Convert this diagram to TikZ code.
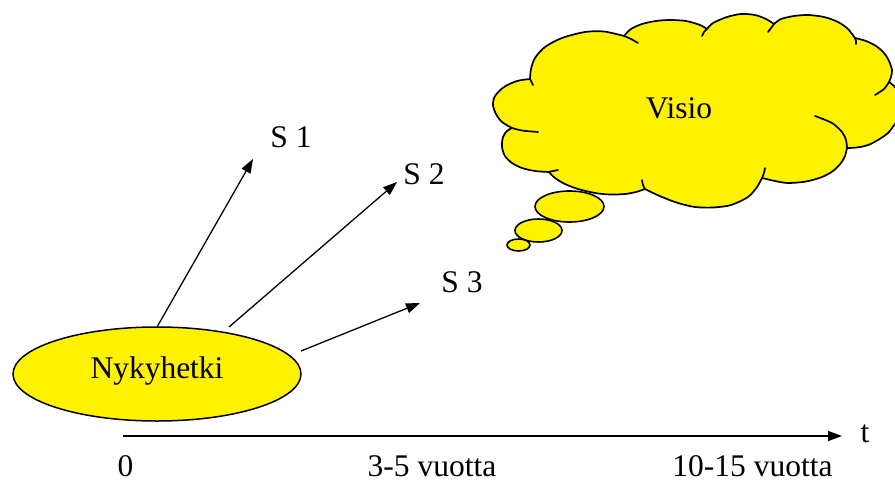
\documentclass[tikz,border=0pt]{standalone}
\usepackage{fontspec}
\setmainfont{Liberation Serif}
\usetikzlibrary{arrows.meta,shapes.geometric}
\begin{document}
\begin{tikzpicture}[x=1pt,y=-1pt,
  every node/.style={font=\fontsize{31.5}{36}\selectfont},
  lbl/.style={anchor=base, inner sep=0pt, text depth=0pt},
  bubble/.style={ellipse, draw, fill=yellow, line width=1.6pt, inner sep=0pt},
  cloudline/.style={draw, fill=yellow, line width=1.7pt, line join=round},
  tail/.style={line width=1.7pt, line cap=round},
  conn/.style={-{Triangle[length=14pt,width=10pt]}, line width=1.3pt}]
\useasboundingbox (0,0) rectangle (895,480);

% thought cloud
\path[cloudline]
  plot[smooth] coordinates {(530,79) (531,69) (535,58) (545,47) (562,38) (585,32) (604,31.5) (624,36)}
  -- plot[smooth] coordinates {(624,36) (631,29) (642,24) (656,21) (670,20) (686,21) (700,25) (707,29)}
  -- plot[smooth] coordinates {(707,29) (713,23) (727,17) (741,14) (755,15) (766,19) (774,24)}
  -- plot[smooth] coordinates {(774,24) (781,19) (794,16) (808,15) (824,17) (838,22) (848,29) (855,38)}
  -- plot[smooth] coordinates {(855,38) (866,41) (876,46) (884,53) (889,61) (892,70) (891,77) (889,82)}
  -- plot[smooth] coordinates {(889,82) (894,86) (899,92) (903,100) (904,108) (901,117) (895,124) (888,133) (878,140) (868,145) (857,147.5) (847,148)}
  -- plot[smooth] coordinates {(847,148) (845,156) (841,163) (833,171) (822,177) (806,181.5) (788,183) (775,181) (762,178)}
  -- plot[smooth] coordinates {(762,178) (757,187) (748,197) (731,205) (713,207.5) (695,207) (678,203) (662,197) (651,192) (645,189)}
  -- plot[smooth] coordinates {(645,189) (636,192) (625,194) (610,194.5) (595,193) (578,189) (565,184) (555,178) (549,172)}
  -- plot[smooth] coordinates {(549,172) (535,171) (522,168) (512,163) (505,156) (502,147) (503,137) (507,131) (512,128)}
  -- plot[smooth] coordinates {(512,128) (502,122) (496,114) (493,105) (495,96) (504,87) (517,81) (530,79)}
  -- cycle;
% inner tails of the cloud
\draw[tail] plot[smooth] coordinates {(512,128) (522,130.5) (538,132)};
\draw[tail] plot[smooth] coordinates {(530,79) (531.5,82) (533,85)};
\draw[tail] plot[smooth] coordinates {(624,36) (631,39) (638,43)};
\draw[tail] plot[smooth] coordinates {(707,29) (704,32) (702,36)};
\draw[tail] plot[smooth] coordinates {(774,24) (771,28) (768,32)};
\draw[tail] plot[smooth] coordinates {(855,38) (856,41) (856,44)};
\draw[tail] plot[smooth] coordinates {(889,82) (884,89) (875,95)};
\draw[tail] plot[smooth] coordinates {(847,148) (846,140) (842,132) (832,123) (815,116)};
\draw[tail] plot[smooth] coordinates {(762,178) (764,173) (765,168)};
\draw[tail] plot[smooth] coordinates {(645,189) (643,185) (642,180)};
\draw[tail] plot[smooth] coordinates {(549,172) (553,171) (558,170)};
\node[lbl] (visio) at (679,118) {Visio};

% small thought bubbles
\node[bubble, minimum width=69pt, minimum height=31pt] (b1) at (569.5,206.5) {};
\node[bubble, minimum width=47pt, minimum height=23pt] (b2) at (538.5,230.5) {};
\node[bubble, minimum width=23pt, minimum height=12pt] (b3) at (518.5,245) {};

% present
\node[bubble, line width=1.5pt, minimum width=288pt, minimum height=94pt,
      text height=8pt, text depth=0pt] (now) at (157,374) {Nykyhetki};

% scenarios
\coordinate (s1a) at (157,327);
\coordinate (s1b) at (253,159);
\coordinate (s2a) at (229,327);
\coordinate (s2b) at (397,182);
\coordinate (s3a) at (301,351);
\coordinate (s3b) at (420,303);
\draw[conn] (s1a) -- (s1b);
\draw[conn] (s2a) -- (s2b);
\draw[conn] (s3a) -- (s3b);
\node[lbl] (l1) at (291,147) {S 1};
\node[lbl] (l2) at (424,184) {S 2};
\node[lbl] (l3) at (462,292) {S 3};

% time axis
\coordinate (ax0) at (123,436);
\coordinate (ax1) at (842,436);
\draw[conn, line width=1.5pt] (ax0) -- (ax1);
\node[lbl] (t) at (865,442) {t};
\node[lbl] (t0) at (125.5,476) {0};
\node[lbl] (t1) at (432,476) {3-5 vuotta};
\node[lbl] (t2) at (752.5,476) {10-15 vuotta};
\end{tikzpicture}
\end{document}
